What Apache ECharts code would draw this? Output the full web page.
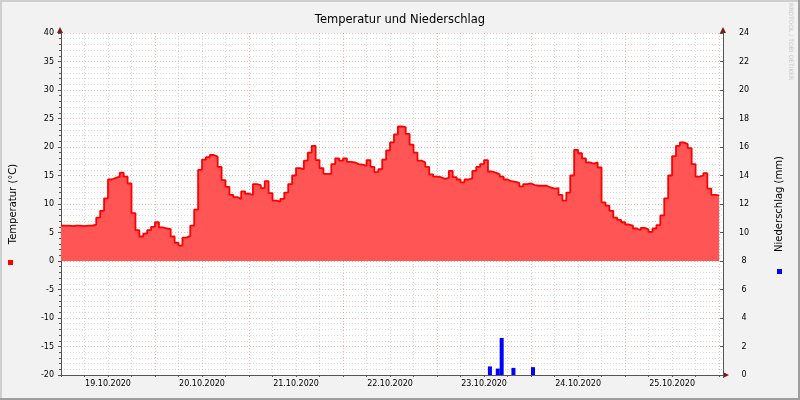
<!DOCTYPE html>
<html>
<head>
<meta charset="utf-8">
<script src="https://cdn.jsdelivr.net/npm/echarts@6/dist/echarts.min.js"></script>
<style>
html,body{margin:0;padding:0;background:#F2F2F2;}
#c{width:800px;height:400px;}
</style>
</head>
<body>
<div id="c"></div>
<script>
// ---- data ----
const title = 'Temperatur und Niederschlag';
const dayLabels = ['19.10.2020','20.10.2020','21.10.2020','22.10.2020','23.10.2020','24.10.2020','25.10.2020'];
// hourly temperature (°C), starting 19.10.2020 00:00
const temperature = [
  6.2,6.2,6.1,6.2,6.2,6.1,6.2,6.2,
  6.4,7.6,8.8,11.0,14.3,14.6,14.8,15.5,14.8,13.6,
  8.4,5.4,4.3,4.8,5.4,6.0,6.8,5.9,5.7,5.6,
  4.3,3.2,2.7,4.1,4.4,6.2,9.0,16.0,17.8,18.2,
  18.6,18.3,16.5,14.2,13.0,11.6,11.2,10.9,12.2,11.8,
  11.6,13.5,13.3,12.8,14.0,11.9,10.6,10.4,10.9,12.0,
  13.5,15.0,16.3,16.1,17.6,19.0,20.2,17.7,16.3,15.3,
  15.3,17.0,18.0,17.6,18.0,17.4,17.3,17.0,16.9,16.7,
  17.7,16.5,15.6,16.1,17.8,19.4,20.8,22.2,23.6,23.5,
  22.3,20.4,19.0,17.6,17.3,16.5,15.2,14.8,14.7,14.4,
  14.6,15.8,14.7,14.3,13.8,14.3,14.5,15.8,16.5,17.0,
  17.7,15.7,15.5,15.2,14.8,14.3,14.0,13.9,13.7,13.1,
  13.5,13.6,13.3,13.2,13.2,13.2,12.9,12.7,12.8,11.6,
  10.6,12.0,15.0,19.5,18.9,18.0,17.3,17.1,17.3,16.4,
  10.3,9.7,8.8,7.6,7.2,6.8,6.4,6.2,5.7,5.4,
  5.8,5.5,5.1,5.7,6.3,8.0,11.0,15.0,18.4,20.2,
  20.8,20.5,19.8,17.0,14.8,15.0,15.4,12.7,11.6,11.5
];
// precipitation (mm): hour index since 19.10.2020 00:00 and amount
const rainHours = [109, 111, 112, 115, 120];
const rainValues = [0.6, 0.45, 2.6, 0.5, 0.55];
const tempTicks = {min:-20, max:40, step:5};
const rainTicks = {min:0, max:24, step:2};

// ---- build ----
const FONT = 'DejaVu Sans';
const tempData = temperature.map((v,i)=>[i,v]);
tempData.push([temperature.length, temperature[temperature.length-1]]);
const rainData = rainHours.map((h,i)=>[h+0.5, rainValues[i]]);

const G = {left:60, right:77, top:33, bottom:25};
const W = 800, H = 400;
const axR = W - G.right, axB = H - G.bottom;
const arrowCol = '#7A1A1A';
const majorGrid = 'rgba(230,120,120,0.55)';
const minorGrid = 'rgba(160,160,160,0.4)';

const chart = echarts.init(document.getElementById('c'), null, {renderer:'canvas'});
chart.setOption({
  animation:false,
  backgroundColor:'#F2F2F2',
  title:{text:title,left:'center',top:9,textStyle:{fontFamily:FONT,fontSize:11.5,fontWeight:'normal',color:'#000'}},
  grid:{left:G.left,right:G.right,top:G.top,bottom:G.bottom,show:true,backgroundColor:'#FFFFFF',borderWidth:0},
  xAxis:{
    type:'value',min:0,max:169,interval:12,
    axisLine:{show:true,onZero:false,lineStyle:{color:'#555',width:1}},
    axisTick:{show:true,length:2,inside:false,lineStyle:{color:'#555'}},
    minorTick:{show:true,splitNumber:2,length:2,lineStyle:{color:'#555'}},
    axisLabel:{margin:5,fontFamily:FONT,fontSize:8,color:'#000',
      formatter:v=> (v%24===12 && dayLabels[(v-12)/24]) ? dayLabels[(v-12)/24] : ''},
    splitLine:{show:true,lineStyle:{color:[majorGrid,minorGrid],type:[1,2],width:1}},
    minorSplitLine:{show:true,lineStyle:{color:minorGrid,type:[1,2],width:1}}
  },
  yAxis:[{
    type:'value',min:tempTicks.min,max:tempTicks.max,interval:tempTicks.step,
    name:'Temperatur (°C)',nameLocation:'middle',nameGap:43,nameRotate:90,
    nameTextStyle:{fontFamily:FONT,fontSize:10,color:'#000'},
    axisLine:{show:true,onZero:false,lineStyle:{color:'#555',width:1}},
    axisTick:{show:true,length:3,lineStyle:{color:'#555'}},
    minorTick:{show:true,splitNumber:5,length:2,lineStyle:{color:'#555'}},
    axisLabel:{margin:7,fontFamily:FONT,fontSize:8,color:'#000'},
    splitLine:{show:true,lineStyle:{color:majorGrid,type:[1,2],width:1}},
    minorSplitLine:{show:true,lineStyle:{color:minorGrid,type:[1,2],width:1}}
  },{
    type:'value',min:rainTicks.min,max:rainTicks.max,interval:rainTicks.step,position:'right',
    name:'Niederschlag (mm)',nameLocation:'middle',nameGap:51,nameRotate:90,
    nameTextStyle:{fontFamily:FONT,fontSize:10,color:'#000'},
    axisLine:{show:true,onZero:false,lineStyle:{color:'#555',width:1}},
    axisTick:{show:true,inside:true,length:3,lineStyle:{color:'#555'}},
    axisLabel:{margin:21,align:'center',fontFamily:FONT,fontSize:8,color:'#000'},
    splitLine:{show:false}
  }],
  series:[{
    type:'line',name:'Temperatur',data:tempData,step:'end',showSymbol:false,
    lineStyle:{color:'#FF0000',width:1.8},
    areaStyle:{color:'#FF5555',opacity:1,origin:0},
    z:3
  },{
    type:'bar',name:'Niederschlag',yAxisIndex:1,data:rainData,barWidth:4,
    itemStyle:{color:'#0000FF'},z:4
  }],
  graphic:[
    {type:'rect',shape:{x:0,y:0,width:W,height:2},style:{fill:'#CFCFCF'},silent:true},
    {type:'rect',shape:{x:0,y:0,width:2,height:H},style:{fill:'#CFCFCF'},silent:true},
    {type:'rect',shape:{x:0,y:H-2,width:W,height:2},style:{fill:'#9E9E9E'},silent:true},
    {type:'rect',shape:{x:W-2,y:0,width:2,height:H},style:{fill:'#9E9E9E'},silent:true},
    {type:'polygon',shape:{points:[[G.left-3,G.top],[G.left+3,G.top],[G.left,G.top-6]]},style:{fill:arrowCol},silent:true},
    {type:'polygon',shape:{points:[[axR-3,G.top],[axR+3,G.top],[axR,G.top-6]]},style:{fill:arrowCol},silent:true},
    {type:'polygon',shape:{points:[[axR,axB-3],[axR,axB+3],[axR+6,axB]]},style:{fill:arrowCol},silent:true},
    {type:'rect',shape:{x:8,y:260,width:5,height:5},style:{fill:'#FF0000'},silent:true},
    {type:'rect',shape:{x:777,y:269,width:5,height:5},style:{fill:'#0000FF'},silent:true},
    {type:'text',x:791,y:3,rotation:-Math.PI/2,style:{text:'RRDTOOL / TOBI OETIKER',fontFamily:FONT,fontSize:6,fill:'#C8C8C8',textAlign:'left',textVerticalAlign:'middle'},silent:true}
  ]
});
</script>
</body>
</html>
